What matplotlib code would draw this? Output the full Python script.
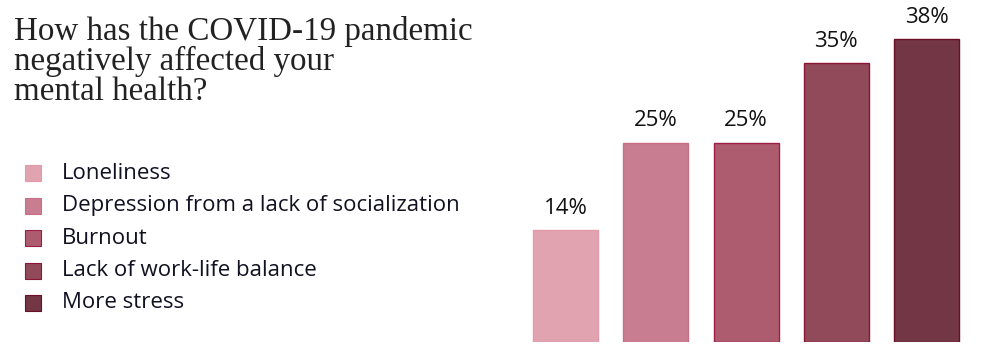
import matplotlib
matplotlib.use("Agg")
import matplotlib.pyplot as plt
from matplotlib.patches import Rectangle

# data
categories = ["Loneliness", "Depression from a lack of socialization", "Burnout",
              "Lack of work-life balance", "More stress"]
values = [14, 25, 25, 35, 38]
colors = ["#E0A3AF", "#C97D90", "#AD5B6E", "#914A59", "#723645"]
edges = ["#E59AAA", "#C96E86", "#9E1F45", "#8A1535", "#6A0F25"]
title = "How has the COVID-19 pandemic\nnegatively affected your\nmental health?"

fig = plt.figure(figsize=(9.9, 3.59), dpi=100)

ax = fig.add_axes([0.5257, 0.0474, 0.4558, 0.9331])
x = range(len(values))
ax.bar(x, values, width=0.72, color=colors, edgecolor=edges, linewidth=1)
for i, v in enumerate(values):
    ax.text(i, v + 1.4, f"{v}%", ha="center", va="bottom", fontsize=16,
            family="Open Sans", color="#111111")
ax.set_xlim(-0.5, 4.5)
ax.set_ylim(0, 42)
ax.axis("off")

# title
fig.text(14 / 990, 1 - 16 / 359, title, ha="left", va="top", fontsize=23.8,
         family="Liberation Serif", color="#222222", linespacing=0.97)

# legend, drawn by hand
y0 = 173
for i, (lab, c, e) in enumerate(zip(categories, colors, edges)):
    yc = y0 + i * 32.5
    fig.patches.append(Rectangle((25 / 990, 1 - (yc + 8) / 359), 16 / 990, 16 / 359,
                                 transform=fig.transFigure, facecolor=c,
                                 edgecolor=e, linewidth=0.8))
    fig.text(62 / 990, 1 - yc / 359, lab, ha="left", va="center", fontsize=16,
             family="Open Sans", color="#111122")

fig.savefig("out.png", dpi=100)
